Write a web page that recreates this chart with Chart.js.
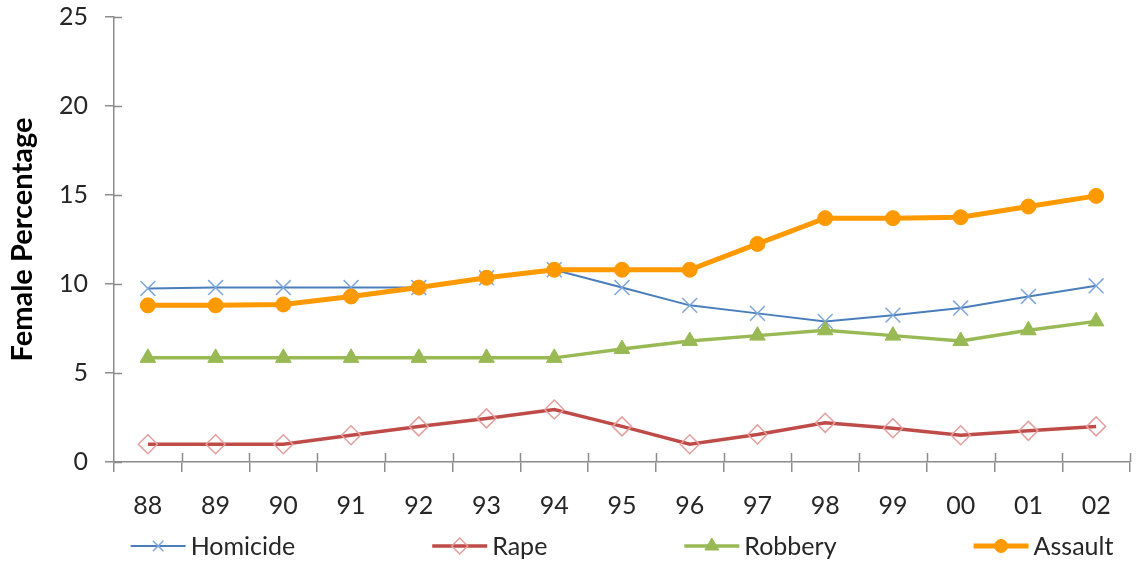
<!DOCTYPE html>
<html>
<head>
<meta charset="utf-8">
<script src="https://cdn.jsdelivr.net/npm/chart.js@4/dist/chart.umd.min.js"></script>
<style>
  html, body { margin: 0; padding: 0; background: #fff; }
  #wrap { width: 1142px; height: 563px; }
</style>
</head>
<body>
<div id="wrap"><canvas id="crimeChart" width="1142" height="563"></canvas></div>
<script>
(function() {
    'use strict';

    const years = ['88', '89', '90', '91', '92', '93', '94', '95', '96', '97', '98', '99', '00', '01', '02'];
    const homicide = [9.75, 9.8, 9.8, 9.8, 9.8, 10.35, 10.8, 9.8, 8.8, 8.35, 7.9, 8.25, 8.65, 9.3, 9.9];
    const rape = [1.0, 1.0, 1.0, 1.5, 2.0, 2.45, 2.95, 2.0, 1.0, 1.55, 2.2, 1.9, 1.5, 1.75, 2.0];
    const robbery = [5.85, 5.85, 5.85, 5.85, 5.85, 5.85, 5.85, 6.35, 6.8, 7.1, 7.4, 7.1, 6.8, 7.4, 7.9];
    const assault = [8.8, 8.8, 8.85, 9.3, 9.8, 10.35, 10.8, 10.8, 10.8, 12.25, 13.7, 13.7, 13.75, 14.35, 14.95];
    const yTicks = [0, 5, 10, 15, 20, 25];

    const axisGrey = '#8c8c8c';
    const textColor = '#262626';
    const fontFamily = 'Lato, "Open Sans", sans-serif';
    const fontSize = 25;

    // inner half of the tick marks (Excel draws them across the axis)
    const crossTicks = {
        id: 'crossTicks',
        afterDraw(chart) {
            const ctx = chart.ctx;
            const x = chart.scales.x;
            const y = chart.scales.y;
            ctx.save();
            ctx.strokeStyle = axisGrey;
            ctx.lineWidth = 1.5;
            ctx.beginPath();
            y.ticks.forEach(t => {
                const py = Math.round(y.getPixelForValue(t.value)) + 0.5;
                ctx.moveTo(y.right, py);
                ctx.lineTo(y.right + 8, py);
            });
            const n = chart.data.labels.length;
            for (let i = 1; i <= n; i++) {
                const px = Math.round(x.left + i * x.width / n) + 0.5;
                ctx.moveTo(px, x.top);
                ctx.lineTo(px, x.top - 9);
            }
            ctx.stroke();
            ctx.restore();
        }
    };

    // Excel-style legend: line with marker, spread under the plot
    const lineLegend = {
        id: 'lineLegend',
        afterDraw(chart) {
            const ctx = chart.ctx;
            const area = chart.chartArea;
            const lineLen = 55, textGap = 5, itemGap = 137;
            const cy = 546;
            ctx.save();
            ctx.font = fontSize + 'px ' + fontFamily;
            ctx.textBaseline = 'middle';
            ctx.textAlign = 'left';
            const items = chart.data.datasets.map(ds => ({ ds, w: lineLen + textGap + ctx.measureText(ds.label).width }));
            const total = items.reduce((s, it) => s + it.w, 0) + itemGap * (items.length - 1);
            let x = (area.left + area.right) / 2 - total / 2;
            items.forEach(({ ds, w }) => {
                ctx.strokeStyle = ds.borderColor;
                ctx.lineWidth = ds.borderWidth;
                ctx.beginPath();
                ctx.moveTo(x, cy);
                ctx.lineTo(x + lineLen, cy);
                ctx.stroke();
                ctx.strokeStyle = ds.pointBorderColor;
                ctx.fillStyle = ds.pointBackgroundColor;
                ctx.lineWidth = ds.pointBorderWidth;
                Chart.helpers.drawPoint(ctx, {
                    pointStyle: ds.pointStyle,
                    radius: ds.legendRadius,
                    rotation: 0,
                    borderWidth: ds.pointBorderWidth
                }, x + lineLen / 2, cy);
                ctx.fillStyle = textColor;
                ctx.fillText(ds.label, x + lineLen + textGap, cy + 1);
                x += w + itemGap;
            });
            ctx.restore();
        }
    };

    new Chart(document.getElementById('crimeChart'), {
        type: 'line',
        data: {
            labels: years,
            datasets: [
                {
                    label: 'Homicide', data: homicide, order: 3,
                    borderColor: '#4a7ebb', borderWidth: 2,
                    pointStyle: 'crossRot', pointRadius: 10.5, legendRadius: 7.5,
                    pointBorderColor: '#7fa7dc', pointBackgroundColor: '#7fa7dc', pointBorderWidth: 1.5,
                    backgroundColor: '#4a7ebb'
                },
                {
                    label: 'Rape', data: rape, order: 2,
                    borderColor: '#be4b48', borderWidth: 3.5,
                    pointStyle: 'rectRot', pointRadius: 9.5, legendRadius: 8,
                    pointBorderColor: '#e39f9d', pointBackgroundColor: 'rgba(255,255,255,0)', pointBorderWidth: 1.5,
                    backgroundColor: '#be4b48'
                },
                {
                    label: 'Robbery', data: robbery, order: 1,
                    borderColor: '#98b954', borderWidth: 3.5,
                    pointStyle: 'triangle', pointRadius: 9, legendRadius: 8,
                    pointBorderColor: '#98b954', pointBackgroundColor: '#98b954', pointBorderWidth: 1,
                    backgroundColor: '#98b954'
                },
                {
                    label: 'Assault', data: assault, order: 0,
                    borderColor: '#ff9900', borderWidth: 5,
                    pointStyle: 'circle', pointRadius: 7.5, legendRadius: 6.5,
                    pointBorderColor: '#ff9900', pointBackgroundColor: '#ff9900', pointBorderWidth: 1,
                    backgroundColor: '#ff9900'
                }
            ]
        },
        options: {
            responsive: false,
            animation: false,
            events: [],
            layout: { padding: { top: 17, right: 7, left: 0, bottom: 0 } },
            plugins: {
                tooltip: { enabled: false },
                legend: { display: false }
            },
            scales: {
                x: {
                    offset: true,
                    border: { color: axisGrey, width: 1.5 },
                    grid: { offset: true, drawOnChartArea: false, drawTicks: true, tickLength: 10, color: axisGrey, lineWidth: 1.5 },
                    ticks: { color: textColor, font: { family: fontFamily, size: fontSize }, padding: 19 },
                    afterFit(scale) {
                        scale.height = 101;
                        scale.paddingLeft = 0;
                        scale.paddingRight = 0;
                    }
                },
                y: {
                    min: 0,
                    max: 25,
                    afterBuildTicks(scale) { scale.ticks = yTicks.map(v => ({ value: v })); },
                    border: { color: axisGrey, width: 1.5 },
                    grid: { drawOnChartArea: false, drawTicks: true, tickLength: 9, color: axisGrey, lineWidth: 1.5 },
                    ticks: { color: textColor, font: { family: fontFamily, size: fontSize }, padding: 17 },
                    title: {
                        display: true,
                        text: 'Female Percentage',
                        color: '#000',
                        font: { family: fontFamily, size: 29, weight: 'bold' },
                        padding: { top: 5, bottom: 0 }
                    },
                    afterFit(scale) {
                        scale.width = 114;
                        scale.paddingTop = 0;
                        scale.paddingBottom = 0;
                    }
                }
            }
        },
        plugins: [crossTicks, lineLegend]
    });
})();
</script>
</body>
</html>
